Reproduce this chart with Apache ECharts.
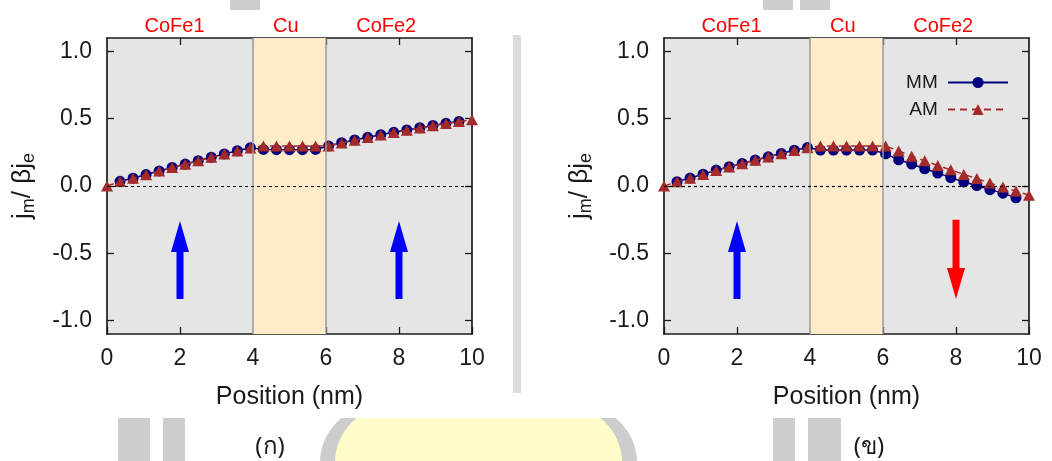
<!DOCTYPE html>
<html>
<head>
<meta charset="utf-8">
<script src="https://cdn.jsdelivr.net/npm/echarts@6/dist/echarts.min.js"></script>
<style>
  html, body { margin: 0; padding: 0; background: #ffffff; }
  #chart { width: 1052px; height: 461px; }
</style>
</head>
<body>
<div id="chart"></div>
<script>
// Grid positions along the trilayer (nm)
const positions = [0, 0.357, 0.714, 1.071, 1.429, 1.786, 2.143, 2.5, 2.857, 3.214, 3.571, 3.929,
  4.286, 4.643, 5, 5.357, 5.714,
  6.071, 6.429, 6.786, 7.143, 7.5, 7.857, 8.214, 8.571, 8.929, 9.286, 9.643, 10];

// Panel (ก): parallel magnetisation — MM has no points at the two outer edges
const mmParallel = [0.035, 0.058, 0.085, 0.112, 0.138, 0.163, 0.188, 0.214, 0.238, 0.262, 0.285,
  0.272, 0.27, 0.27, 0.27, 0.272,
  0.298, 0.322, 0.342, 0.362, 0.381, 0.399, 0.417, 0.433, 0.45, 0.466, 0.48];
const amParallel = [0, 0.033, 0.057, 0.084, 0.111, 0.137, 0.162, 0.187, 0.213, 0.237, 0.26, 0.283,
  0.298, 0.298, 0.298, 0.298, 0.298,
  0.298, 0.32, 0.34, 0.36, 0.379, 0.397, 0.415, 0.431, 0.448, 0.464, 0.479, 0.493];

// Panel (ข): antiparallel magnetisation
const mmAnti = [0.032, 0.059, 0.088, 0.118, 0.143, 0.168, 0.193, 0.217, 0.242, 0.266, 0.286,
  0.267, 0.267, 0.267, 0.267, 0.267,
  0.239, 0.195, 0.163, 0.128, 0.096, 0.062, 0.03, 0.003, -0.027, -0.053, -0.088];
const amAnti = [0, 0.031, 0.058, 0.086, 0.116, 0.141, 0.166, 0.191, 0.215, 0.24, 0.264, 0.284,
  0.298, 0.298, 0.298, 0.298, 0.298,
  0.298, 0.26, 0.222, 0.187, 0.153, 0.12, 0.086, 0.055, 0.022, -0.008, -0.038, -0.068];

// Magnetisation arrows: [position, tail value, tip value]
const arrowsParallel = [[2, -0.84, -0.26], [8, -0.84, -0.26]];
const arrowsAnti = [[2, -0.84, -0.26], [8, -0.25, -0.84]];

// Layer names and where they sit along the top edge
const layerNames = ['CoFe1', 'Cu', 'CoFe2'];
const layerNameAt = [1.85, 4.9, 7.65];
const spacer = [4, 6];

const yTickValues = [-1, -0.5, 0, 0.5, 1];
const xTickValues = [0, 2, 4, 6, 8, 10];
const seriesNames = ['MM', 'AM'];
const panelCaptions = ['(ก)', '(ข)'];

const FONT = '"Liberation Sans", Arial, Helvetica, sans-serif';
const INK = '#1a1a1a';
const MM_COLOR = '#00007f';
const AM_COLOR = '#a52a2a';
const EMBLEM_GREY = '#cdcdcd';
const EMBLEM_YELLOW = '#fefcc8';

const chart = echarts.init(document.getElementById('chart'), null, { renderer: 'canvas' });

const panelLeft = [107, 664];
const frameLine = { show: true, onZero: false, lineStyle: { color: INK, width: 1.7 } };
const innerTick = (vals) => ({ show: true, inside: true, length: 7, customValues: vals, lineStyle: { color: INK, width: 1.3 } });

const grids = panelLeft.map(l => ({
  left: l, top: 38, width: 365, height: 296,
  show: true, backgroundColor: '#e5e5e5', borderWidth: 0
}));

const xAxes = [];
const yAxes = [];
panelLeft.forEach((l, p) => {
  xAxes.push({
    type: 'value', gridIndex: p, min: 0, max: 10, interval: 2, position: 'bottom',
    axisLine: frameLine, axisTick: innerTick(xTickValues), splitLine: { show: false },
    axisLabel: { color: INK, fontSize: 23, fontFamily: FONT, margin: 13 },
    name: 'Position (nm)', nameLocation: 'middle', nameGap: 51,
    nameTextStyle: { color: INK, fontSize: 25, fontFamily: FONT }
  });
  xAxes.push({
    type: 'value', gridIndex: p, min: 0, max: 10, position: 'top',
    axisLine: frameLine, axisTick: innerTick([2, 4, 6, 8]), splitLine: { show: false },
    axisLabel: {
      show: true, customValues: layerNameAt, color: '#ff0000', fontSize: 20, fontFamily: FONT, margin: 2,
      formatter: v => layerNames[layerNameAt.indexOf(v)]
    }
  });
  yAxes.push({
    type: 'value', gridIndex: p, min: -1.1, max: 1.1, position: 'left',
    axisLine: frameLine, axisTick: innerTick(yTickValues), splitLine: { show: false },
    axisLabel: { customValues: yTickValues, color: INK, fontSize: 23, fontFamily: FONT, margin: 15,
      formatter: v => v.toFixed(1) },
    name: '{a|j}{s|m}{a|/ βj}{s|e}', nameLocation: 'middle', nameGap: 69, nameRotate: 90,
    nameTextStyle: {
      color: INK, fontFamily: FONT, fontSize: 26,
      rich: {
        a: { fontSize: 26, fontFamily: FONT, color: INK },
        s: { fontSize: 18, fontFamily: FONT, color: INK, padding: [13, 0, 0, 0] }
      }
    }
  });
  yAxes.push({
    type: 'value', gridIndex: p, min: -1.1, max: 1.1, position: 'right',
    axisLine: frameLine, axisTick: innerTick(yTickValues), splitLine: { show: false },
    axisLabel: { show: false }
  });
});

function renderArrow(params, api) {
  const x = api.value(0);
  const tail = api.coord([x, api.value(1)]);
  const tip = api.coord([x, api.value(2)]);
  const dir = tip[1] < tail[1] ? -1 : 1;
  const half = 3.5, headHalf = 9, headLen = 31;
  const baseY = tip[1] - dir * headLen;
  const cx = tail[0];
  return {
    type: 'polygon',
    shape: { points: [
      [cx - half, tail[1]], [cx + half, tail[1]], [cx + half, baseY], [cx + headHalf, baseY],
      [cx, tip[1]], [cx - headHalf, baseY], [cx - half, baseY]
    ] },
    style: { fill: dir < 0 ? '#0000ff' : '#ff0000' }
  };
}

const panels = [
  { mm: mmParallel, am: amParallel, arrows: arrowsParallel },
  { mm: mmAnti, am: amAnti, arrows: arrowsAnti }
];

const series = [];
panels.forEach((pd, p) => {
  const xi = 2 * p, yi = 2 * p;
  // layer band, interfaces and zero reference
  series.push({
    type: 'line', xAxisIndex: xi, yAxisIndex: yi, data: [], silent: true, z: 1,
    markArea: {
      silent: true, itemStyle: { color: '#fdebca' },
      data: [[{ xAxis: spacer[0] }, { xAxis: spacer[1] }]]
    },
    markLine: {
      silent: true, symbol: 'none', label: { show: false }, animation: false,
      data: [
        { xAxis: spacer[0], lineStyle: { color: '#9a9a9a', width: 1.5, type: 'solid' } },
        { xAxis: spacer[1], lineStyle: { color: '#9a9a9a', width: 1.5, type: 'solid' } },
        { yAxis: 0, lineStyle: { color: '#000000', width: 1.2, type: [3, 3] } }
      ]
    }
  });
  series.push({
    type: 'custom', xAxisIndex: xi, yAxisIndex: yi, z: 2, silent: true,
    renderItem: renderArrow, encode: { x: 0, y: [1, 2] }, data: pd.arrows
  });
  series.push({
    name: seriesNames[0], type: 'line', xAxisIndex: xi, yAxisIndex: yi, z: 3,
    symbol: 'circle', symbolSize: 11, showSymbol: true,
    itemStyle: { color: MM_COLOR }, lineStyle: { color: MM_COLOR, width: 1.5 },
    data: positions.slice(1, 28).map((x, i) => [x, pd.mm[i]])
  });
  series.push({
    name: seriesNames[1], type: 'line', xAxisIndex: xi, yAxisIndex: yi, z: 4,
    symbol: 'triangle', symbolSize: [12, 11], showSymbol: true,
    itemStyle: { color: AM_COLOR }, lineStyle: { color: AM_COLOR, width: 1.5, type: [7, 5] },
    data: positions.map((x, i) => [x, pd.am[i]])
  });
});

// faint emblem printed behind the two panels (only its edges show around them)
const emblem = [
  { type: 'rect', shape: { x: 320, y: 405, width: 317, height: 120, r: [58, 58, 0, 0] }, style: { fill: EMBLEM_GREY } },
  { type: 'rect', shape: { x: 335, y: 405, width: 287, height: 120, r: [58, 58, 0, 0] }, style: { fill: EMBLEM_YELLOW } },
  { type: 'rect', shape: { x: 118, y: 418, width: 32, height: 43 }, style: { fill: EMBLEM_GREY } },
  { type: 'rect', shape: { x: 163, y: 418, width: 22, height: 43 }, style: { fill: EMBLEM_GREY } },
  { type: 'rect', shape: { x: 773, y: 418, width: 22, height: 43 }, style: { fill: EMBLEM_GREY } },
  { type: 'rect', shape: { x: 808, y: 418, width: 33, height: 43 }, style: { fill: EMBLEM_GREY } },
  { type: 'rect', shape: { x: 230, y: 0, width: 30, height: 10 }, style: { fill: EMBLEM_GREY } },
  { type: 'rect', shape: { x: 763, y: 0, width: 30, height: 10 }, style: { fill: EMBLEM_GREY } },
  { type: 'rect', shape: { x: 800, y: 0, width: 30, height: 10 }, style: { fill: EMBLEM_GREY } }
].map(e => Object.assign({ silent: true, z: -100 }, e));
// white sheet the two plots sit on, with a sliver of the emblem in the gutter
const paper = [
  { type: 'rect', shape: { x: 0, y: 10, width: 1052, height: 408 }, style: { fill: '#ffffff' }, z: -90 },
  { type: 'rect', shape: { x: 513, y: 35, width: 8, height: 358 }, style: { fill: '#dcdcdc' }, z: -80 }
].map(e => Object.assign({ silent: true }, e));

const captions = panelCaptions.map((c, i) => ({
  type: 'text', x: [270, 869][i], y: 447, silent: true, z: 10,
  style: { text: c, fontSize: 24, fontFamily: '"Noto Sans", "DejaVu Sans", sans-serif', fill: INK,
    align: 'center', verticalAlign: 'middle' }
}));

chart.setOption({
  animation: false,
  backgroundColor: '#ffffff',
  grid: grids,
  xAxis: xAxes,
  yAxis: yAxes,
  legend: {
    data: seriesNames, orient: 'vertical', right: 38, top: 68, align: 'right',
    itemWidth: 60, itemHeight: 14, itemGap: 8, selectedMode: false,
    formatter: name => name + ' ',
    textStyle: { color: INK, fontSize: 19, fontFamily: FONT }
  },
  graphic: emblem.concat(paper, captions),
  series: series
});
</script>
</body>
</html>
